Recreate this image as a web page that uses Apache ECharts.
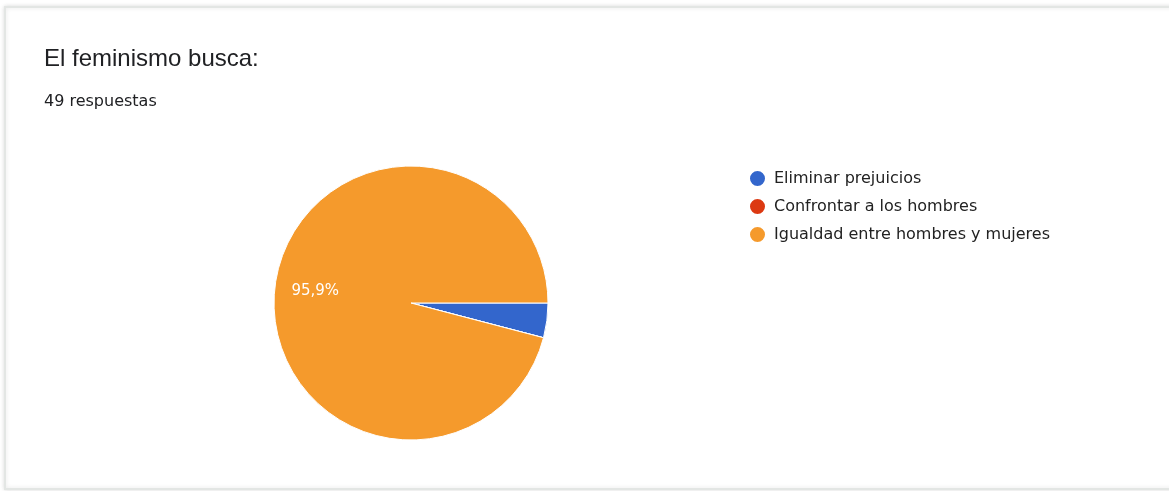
<!DOCTYPE html>
<html>
<head>
<meta charset="utf-8">
<script src="https://cdn.jsdelivr.net/npm/echarts@6/dist/echarts.min.js"></script>
<style>
html,body{margin:0;padding:0;background:#fff;}
#c{width:1169px;height:491px;}
</style>
</head>
<body>
<div id="c"></div>
<script>
const titleText = 'El feminismo busca:';
const subtitleText = '49 respuestas';
const categories = ['Eliminar prejuicios', 'Confrontar a los hombres', 'Igualdad entre hombres y mujeres'];
const values = [2, 0, 47];
const colors = ['#3366cc', '#dc3912', '#f59a2c'];

const total = values.reduce((a, b) => a + b, 0);
const data = categories.map((n, i) => ({ name: n, value: values[i], itemStyle: { color: colors[i] } }));
const labelData = categories.map((n, i) => ({ name: n, value: values[i] }));

const chart = echarts.init(document.getElementById('c'), null, { renderer: 'canvas' });
chart.setOption({
  backgroundColor: '#ffffff',
  animation: false,
  graphic: [
    { type: 'rect', z: -10, shape: { x: 5, y: 7, width: 1170, height: 482 },
      style: { fill: '#fff', stroke: '#e3e6e4', lineWidth: 2, shadowBlur: 4, shadowColor: 'rgba(0,0,0,0.12)' } },
    { type: 'text', left: 44, top: 47,
      style: { text: titleText, font: '24px "Liberation Sans", Arial, sans-serif', fill: '#202124' } },
    { type: 'text', left: 44, top: 94,
      style: { text: subtitleText, font: '16px "DejaVu Sans", sans-serif', fill: '#202124' } }
  ],
  legend: {
    orient: 'vertical',
    left: 743,
    top: 164,
    icon: 'circle',
    itemWidth: 17,
    itemHeight: 17,
    itemGap: 9,
    selectedMode: false,
    data: categories,
    textStyle: { fontSize: 16, color: '#222', fontFamily: '"DejaVu Sans", sans-serif', padding: [0, 0, 0, 3] }
  },
  series: [
    {
      type: 'pie',
      center: [411, 303],
      radius: [0, 137],
      startAngle: 0,
      clockwise: true,
      data: data,
      label: { show: false },
      labelLine: { show: false },
      itemStyle: { borderColor: '#fff', borderWidth: 1 },
      emphasis: { disabled: true },
      silent: true
    },
    {
      type: 'pie',
      center: [411, 303],
      radius: [50, 137],
      startAngle: 0,
      clockwise: true,
      data: labelData,
      itemStyle: { color: 'rgba(0,0,0,0)', borderWidth: 0 },
      legendHoverLink: false,
      silent: true,
      emphasis: { disabled: true },
      label: {
        show: true,
        position: 'inside',
        color: '#ffffff',
        fontSize: 15,
        fontFamily: '"DejaVu Sans", sans-serif',
        formatter: p => {
          const pct = p.value / total * 100;
          return pct < 10 ? '' : pct.toFixed(1).replace('.', ',') + '%';
        }
      },
      labelLine: { show: false }
    }
  ]
});
</script>
</body>
</html>
